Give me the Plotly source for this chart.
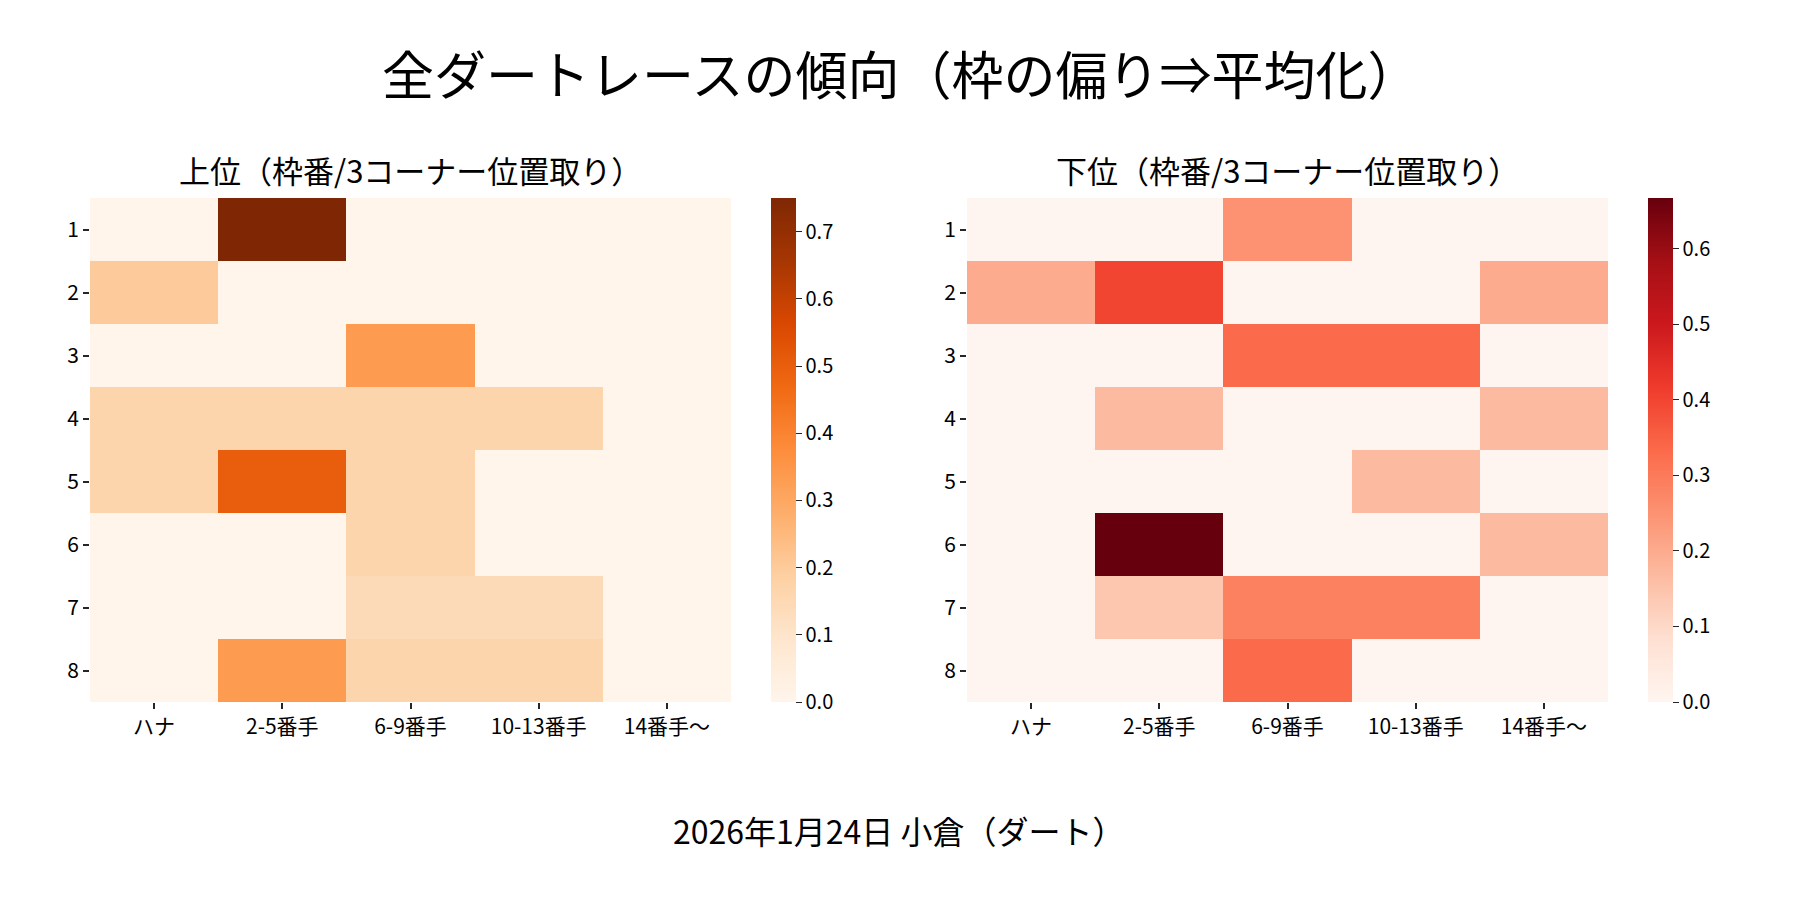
import plotly.graph_objs as go
import plotly.express as px

FONT = "Noto Sans CJK JP"

# rows: 枠番 1..8, columns: 3コーナー位置取り
frames = ["1", "2", "3", "4", "5", "6", "7", "8"]
positions = ["ハナ", "2-5番手", "6-9番手", "10-13番手", "14番手～"]

upper = [
    [0.0, 0.75, 0.0, 0.0, 0.0],
    [0.2, 0.0, 0.0, 0.0, 0.0],
    [0.0, 0.0, 0.333, 0.0, 0.0],
    [0.167, 0.167, 0.167, 0.167, 0.0],
    [0.167, 0.5, 0.167, 0.0, 0.0],
    [0.0, 0.0, 0.167, 0.0, 0.0],
    [0.0, 0.0, 0.143, 0.143, 0.0],
    [0.0, 0.333, 0.167, 0.167, 0.0],
]
lower = [
    [0.0, 0.0, 0.25, 0.0, 0.0],
    [0.2, 0.4, 0.0, 0.0, 0.2],
    [0.0, 0.0, 0.333, 0.333, 0.0],
    [0.0, 0.167, 0.0, 0.0, 0.167],
    [0.0, 0.0, 0.0, 0.167, 0.0],
    [0.0, 0.667, 0.0, 0.0, 0.167],
    [0.0, 0.143, 0.286, 0.286, 0.0],
    [0.0, 0.0, 0.333, 0.0, 0.0],
]

upper_ticks = [0.0, 0.1, 0.2, 0.3, 0.4, 0.5, 0.6, 0.7]
lower_ticks = [0.0, 0.1, 0.2, 0.3, 0.4, 0.5, 0.6]

title = "全ダートレースの傾向（枠の偏り⇒平均化）"
upper_title = "上位（枠番/3コーナー位置取り）"
lower_title = "下位（枠番/3コーナー位置取り）"
caption = "2026年1月24日 小倉（ダート）"

W, H = 1800, 900
OFF = 8  # page body margin
TICK = "#262626"


def fx(p):
    return (p - OFF) / W


def fy(p):
    return 1 - (p - OFF) / H


def cbar(x, ticks):
    return dict(
        x=fx(x), xanchor="left", xpad=0, y=fy(450), yanchor="middle", ypad=0,
        thickness=25, len=504, lenmode="pixels",
        outlinewidth=0, ticks="outside", ticklen=6, tickcolor=TICK,
        tickvals=ticks, tickformat=".1f",
        tickfont=dict(family=FONT, size=20, color="black"),
    )


fig = go.Figure()
fig.add_trace(go.Heatmap(
    z=upper, x=positions, y=frames, xaxis="x", yaxis="y",
    colorscale=px.colors.sequential.Oranges, zmin=0, zmax=max(map(max, upper)),
    colorbar=cbar(771, upper_ticks),
))
fig.add_trace(go.Heatmap(
    z=lower, x=positions, y=frames, xaxis="x2", yaxis="y2",
    colorscale=px.colors.sequential.Reds, zmin=0, zmax=max(map(max, lower)),
    colorbar=cbar(1648, lower_ticks),
))

axis_style = dict(
    showgrid=False, zeroline=False, showline=False,
    ticks="outside", ticklen=6, tickwidth=1.5, tickcolor=TICK,
    tickfont=dict(family=FONT, size=21, color="black"),
)
ydom = [fy(702), fy(198)]


def label(text, x, y, size):
    return dict(text=text, x=fx(x), y=fy(y), xref="paper", yref="paper",
                xanchor="center", yanchor="middle", showarrow=False,
                font=dict(family=FONT, size=size, color="black"))


fig.update_layout(
    width=W, height=H,
    margin=dict(l=0, r=0, t=0, b=0),
    paper_bgcolor="white", plot_bgcolor="white",
    xaxis=dict(domain=[fx(90), fx(731)], anchor="y", **axis_style),
    yaxis=dict(domain=ydom, anchor="x", autorange="reversed", **axis_style),
    xaxis2=dict(domain=[fx(967), fx(1608)], anchor="y2", **axis_style),
    yaxis2=dict(domain=ydom, anchor="x2", autorange="reversed", **axis_style),
    annotations=[
        label(title, 900, 72, 52),
        label(upper_title, (90 + 731) / 2, 170, 31),
        label(lower_title, (967 + 1608) / 2, 170, 31),
        label(caption, 899, 830, 32),
    ],
)

fig.write_html("out.html")
